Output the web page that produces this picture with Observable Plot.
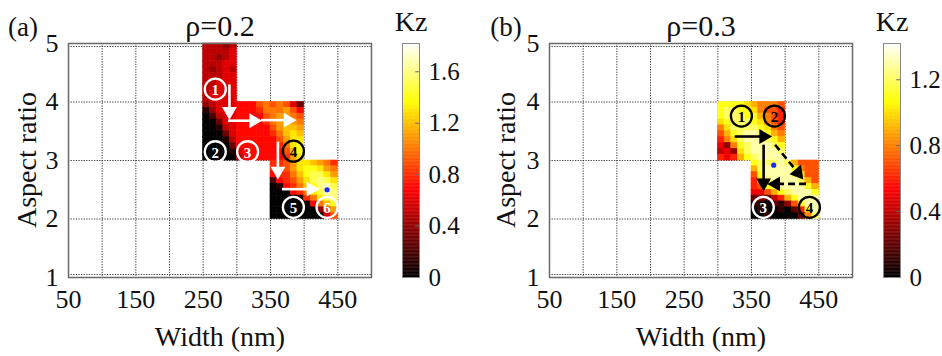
<!DOCTYPE html>
<html><head><meta charset="utf-8">
<script src="https://cdn.jsdelivr.net/npm/d3@7"></script>
<script src="https://cdn.jsdelivr.net/npm/@observablehq/plot@0.6"></script>
<style>
body{margin:0;background:#fff;}
#root{position:relative;width:942px;height:356px;overflow:hidden;font-family:"Liberation Serif","Times New Roman","DejaVu Serif",serif;color:#111;background:#fff;}
.lbl{position:absolute;white-space:nowrap;line-height:1;transform:translate(-50%,-50%);}
.abs{position:absolute;top:0;}
svg{overflow:visible;}
svg text{font-family:"Liberation Serif","Times New Roman","DejaVu Serif",serif;}
</style></head><body><div id="root"></div>
<script>
// ---------- data ----------
const xTicks = [50, 150, 250, 350, 450];
const yTicks = [1, 2, 3, 4, 5];
const kzTicksA = [0, 0.4, 0.8, 1.2, 1.6];
const kzTicksB = [0, 0.4, 0.8, 1.2];
const kzMaxA = 1.82, kzMaxB = 1.42;
const cellW = 10, cellH = 0.1;   // grid step: width (nm), aspect ratio

// Panel (a) rho=0.2 : Kz x10, rows from top edge downward, columns = left edges (nm)
const a1Widths = [250, 260, 270, 280, 290]; const a1Top = 5.0;
const a1Kz = [
  [5,5,5,4,5],[5,5,5,5,6],[5,5,4,5,6],[5,5,5,6,6],[5,4,5,6,5],
  [5,5,5,6,6],[5,5,6,6,6],[5,5,6,6,6],[5,6,6,6,6],[5,6,6,6,6],
  [4,5,6,6,6],[1,4,6,6,6],[0,2,5,6,6],[0,0,3,6,6],[0,0,1,5,6],
  [0,0,0,3,6],[0,0,0,1,5],[0,0,0,0,3],[0,0,0,0,1],[0,0,0,0,0]
];
const a2Widths = [300,310,320,330,340,350,360,370,380,390]; const a2Top = 4.0;
const a2Kz = [
  [7,7,7,9,10,9,10,9,6,3],
  [7,7,7,8,10,10,10,11,9,7],
  [7,7,7,7,9,10,11,11,10,9],
  [7,7,7,7,8,10,11,12,11,10],
  [7,7,7,7,7,9,11,12,12,11],
  [7,7,7,7,7,8,10,12,13,12],
  [7,7,7,7,7,7,9,11,13,13],
  [7,7,7,7,7,7,8,10,13,14],
  [6,7,7,7,7,7,7,9,12,14],
  [5,7,7,7,7,7,7,8,11,13]
];
const a3Widths = [350,360,370,380,390,400,410,420,430,440]; const a3Top = 3.0;
const a3Kz = [
  [8,8,9,11,13,13,12,11,10,8],
  [8,8,9,11,13,14,14,13,11,10],
  [7,8,8,10,12,14,15,15,13,11],
  [2,7,8,9,11,13,15,16,15,13],
  [0,1,7,8,10,12,14,16,17,15],
  [0,0,0,7,8,10,13,15,17,16],
  [0,0,0,0,1,8,10,13,15,16],
  [0,0,0,0,0,0,7,10,12,14],
  [0,0,0,0,0,0,0,4,8,11],
  [0,0,0,0,0,0,0,0,6,9]
];

// Panel (b) rho=0.3
const b1Widths = [300,310,320,330,340,350,360,370,380,390]; const b1Top = 4.0;
const b1Kz = [
  [11,11,11,11,10,9,8,8,8,7],
  [11,12,12,11,11,10,8,7,7,6],
  [11,12,12,12,11,11,9,8,7,6],
  [10,11,12,12,12,11,10,8,7,6],
  [8,10,12,12,12,12,11,10,8,7],
  [7,9,11,12,13,13,12,11,9,8],
  [6,8,10,12,13,13,13,12,11,9],
  [5,3,8,11,12,13,13,13,12,11],
  [4,5,3,10,12,13,13,13,13,12],
  [6,5,6,9,11,12,13,13,13,13]
];
const b2Widths = [350,360,370,380,390,400,410,420,430,440]; const b2Top = 3.0;
const b2Kz = [
  [11,12,12,12,13,12,9,7,7,7],
  [9,12,13,13,13,13,11,8,7,7],
  [7,11,13,13,13,13,12,10,7,7],
  [6,10,12,13,13,13,13,12,9,7],
  [6,7,11,12,13,13,13,13,11,9],
  [5,5,7,9,11,12,13,13,13,11],
  [2,3,2,4,6,9,11,13,13,13],
  [1,1,0,2,1,3,7,11,13,13],
  [0,1,0,0,1,0,2,6,11,13],
  [0,0,1,0,0,0,0,2,8,12]
];

// annotations (data coordinates)
const markersA = [
  {x:268, y:4.22, n:"1", tone:"light"},
  {x:268, y:3.15, n:"2", tone:"light"},
  {x:316, y:3.15, n:"3", tone:"light"},
  {x:384, y:3.16, n:"4", tone:"dark"},
  {x:384, y:2.20, n:"5", tone:"light"},
  {x:434, y:2.20, n:"6", tone:"light"}
];
const arrowsA = [
  {x1:289, y1:4.30, x2:289, y2:3.84, dashed:false},
  {x1:287, y1:3.68, x2:325, y2:3.68, dashed:false},
  {x1:336, y1:3.69, x2:376, y2:3.69, dashed:false},
  {x1:361, y1:3.32, x2:361, y2:2.82, dashed:false},
  {x1:367, y1:2.51, x2:410, y2:2.51, dashed:false}
];
const optimumA = [{x:434, y:2.50}];
const markersB = [
  {x:335, y:3.76, n:"1", tone:"dark"},
  {x:384, y:3.76, n:"2", tone:"dark"},
  {x:367.5, y:2.20, n:"3", tone:"light"},
  {x:436, y:2.20, n:"4", tone:"dark"}
];
const arrowsB = [
  {x1:325, y1:3.41, x2:368, y2:3.41, dashed:false},
  {x1:368, y1:3.27, x2:368, y2:2.62, dashed:false},
  {x1:385, y1:3.27, x2:419, y2:2.79, dashed:true},
  {x1:431, y1:2.60, x2:386, y2:2.60, dashed:true}
];
const optimumB = [{x:383, y:2.92}];

// ---------- drawing ----------
function hot(t){
  const r = Math.max(0, Math.min(1, t/0.375));
  const g = Math.max(0, Math.min(1, (t-0.375)/0.375));
  const b = Math.max(0, Math.min(1, (t-0.75)/0.25));
  return `rgb(${Math.round(r*255)},${Math.round(g*255)},${Math.round(b*255)})`;
}
function cells(blocks){
  const out = [];
  for (const b of blocks) b.kz.forEach((row, r) => row.forEach((v, c) => {
    out.push({x1:b.widths[c], x2:b.widths[c]+cellW, y2:b.top-cellH*r, y1:b.top-cellH*(r+1), kz:v/10});
  }));
  return out;
}
const root = document.getElementById("root");
const FONT = "'Liberation Serif','Times New Roman','DejaVu Serif',serif";
const grid = {stroke:"#222", strokeOpacity:0.85, strokeDasharray:"1.3,1.3", strokeWidth:1};
const PLOT_W = 303, PLOT_H = 234;   // frame size in px (for arrowhead orientation)

function mainPlot(data, kzMax, markers, arrows, opt, ml, arrowColor){
  const toneColor = d => d.tone === "light" ? "white" : "black";
  const headAngle = d => {
    const sx = (d.x2 - d.x1) * PLOT_W / 450, sy = -(d.y2 - d.y1) * PLOT_H / 4;
    return Math.atan2(sx, -sy) * 180 / Math.PI;
  };
  return Plot.plot({
    width: ml + 303 + 19, height: 356,
    marginLeft: ml, marginRight: 19, marginTop: 43, marginBottom: 79,
    style: {fontFamily: FONT, fontSize: "26px", background: "transparent", color: "#111", overflow: "visible"},
    x: {domain: [50, 500], ticks: xTicks, tickSize: 0, tickPadding: 12, label: null, tickFormat: "d"},
    y: {domain: [1, 5], ticks: yTicks, tickSize: 0, tickPadding: 10, label: null, tickFormat: "d"},
    color: {type: "linear", domain: [0, kzMax], interpolate: hot, clamp: true},
    marks: [
      Plot.ruleX(d3.range(100, 500, 50), grid),
      Plot.ruleY([2, 3, 4], grid),
      Plot.ruleY([5], {...grid, dy: 3}),
      Plot.ruleY([1], {...grid, dy: -3}),
      Plot.rect(data, {x1:"x1", x2:"x2", y1:"y1", y2:"y2", fill:"kz", stroke:"kz", strokeWidth:0.6}),
      Plot.frame({stroke:"#6a6a6a", strokeWidth:1.5}),
      Plot.link(arrows.filter(d => !d.dashed), {x1:"x1", y1:"y1", x2:"x2", y2:"y2", stroke:arrowColor, strokeWidth:2.6}),
      Plot.link(arrows.filter(d => d.dashed), {x1:"x1", y1:"y1", x2:"x2", y2:"y2", stroke:arrowColor, strokeWidth:2.6, strokeDasharray:"7,4"}),
      Plot.dot(arrows, {x:"x2", y:"y2", symbol:"triangle", r:5.5, rotate:headAngle, fill:arrowColor, stroke:"none"}),
      Plot.dot(opt, {x:"x", y:"y", r:2.6, fill:"#1a2bff", stroke:"none"}),
      Plot.dot(markers, {x:"x", y:"y", r:10.5, stroke:toneColor, strokeWidth:2.3, fill:"none"}),
      Plot.text(markers, {x:"x", y:"y", text:"n", fill:toneColor, fontSize:15, fontWeight:"bold", fontFamily:"'Liberation Sans','DejaVu Sans',sans-serif", dy:1})
    ]
  });
}
function colorBar(kzMax, ticks, mr){
  const steps = d3.range(0, kzMax, kzMax/300);
  return Plot.plot({
    width: 7 + 17 + mr, height: 356,
    marginLeft: 7, marginRight: mr, marginTop: 43, marginBottom: 79,
    style: {fontFamily: FONT, fontSize: "25px", background: "transparent", color: "#111", overflow: "visible"},
    x: {domain: [0, 1], axis: null},
    y: {domain: [0, kzMax], axis: "right", ticks: ticks, tickSize: 0, tickPadding: 9, label: null,
        tickFormat: d => d === 0 ? "0" : d.toFixed(1)},
    color: {type: "linear", domain: [0, kzMax], interpolate: hot, clamp: true},
    marks: [
      Plot.rect(steps, {x1: 0, x2: 1, y1: d => d, y2: d => Math.min(kzMax, d + kzMax/300 + kzMax/600), fill: d => d}),
      Plot.ruleY(ticks.filter(t => t > 0), {x1: 0.78, x2: 1, stroke: "#666", strokeWidth: 1}),
      Plot.frame({stroke: "#888", strokeWidth: 1})
    ]
  });
}
function place(el, left){ el.classList.add("abs"); el.style.left = left + "px"; root.appendChild(el); }
function label(text, x, y, size, rotate){
  const d = document.createElement("div");
  d.className = "lbl"; d.textContent = text;
  d.style.left = x + "px"; d.style.top = y + "px"; d.style.fontSize = size + "px";
  if (rotate) d.style.transform = "translate(-50%,-50%) rotate(-90deg)";
  root.appendChild(d);
}

const cellsA = cells([{widths:a1Widths, top:a1Top, kz:a1Kz}, {widths:a2Widths, top:a2Top, kz:a2Kz}, {widths:a3Widths, top:a3Top, kz:a3Kz}]);
const cellsB = cells([{widths:b1Widths, top:b1Top, kz:b1Kz}, {widths:b2Widths, top:b2Top, kz:b2Kz}]);

place(mainPlot(cellsA, kzMaxA, markersA, arrowsA, optimumA, 68, "white"), 0);
place(colorBar(kzMaxA, kzTicksA, 45), 395);
place(mainPlot(cellsB, kzMaxB, markersB, arrowsB, optimumB, 78, "black"), 471);
place(colorBar(kzMaxB, kzTicksB, 42), 876);

label("(a)", 23, 27, 27);
label("ρ=0.2", 220, 26, 30);
label("Kz", 411, 22, 28);
label("Width (nm)", 220, 337, 28);
label("Aspect ratio", 27, 160, 28, true);
label("(b)", 506, 27, 27);
label("ρ=0.3", 701, 26, 30);
label("Kz", 892, 22, 28);
label("Width (nm)", 701, 337, 28);
label("Aspect ratio", 506, 160, 28, true);
</script></body></html>
